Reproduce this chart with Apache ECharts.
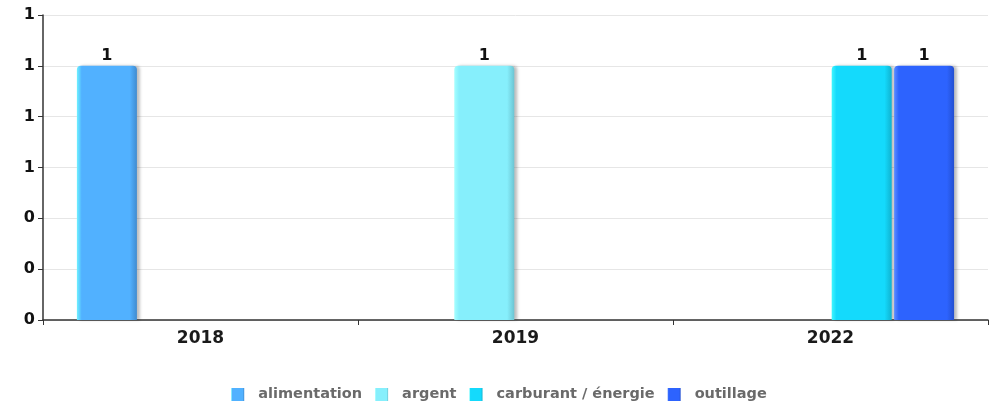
<!DOCTYPE html>
<html><head><meta charset="utf-8">
<script src="https://cdn.jsdelivr.net/npm/echarts@6/dist/echarts.min.js"></script>
<style>html,body{margin:0;padding:0;background:#fff}#c{width:998px;height:406px}</style>
</head><body><div id="c"></div>
<script>
const categories = ['2018', '2019', '2022'];
const seriesNames = ['alimentation', 'argent', 'carburant / énergie', 'outillage'];
const alimentation = [1, null, null];
const argent = [null, 1, null];
const carburant = [null, null, 1];
const outillage = [null, null, 1];
const yTicks = [0, 0.2, 0.4, 0.6, 0.8, 1.0, 1.2];

const colors = ['#51b1ff', '#86effc', '#14dafc', '#2d63fe'];
const lights = ['#6ef2ff', '#a6ffff', '#3ff7ff', '#5a8cff'];
const darks = ['#3f8bd0', '#6cc4d2', '#10b2cf', '#234fd0'];
const datas = [alimentation, argent, carburant, outillage];

const font = 'DejaVu Sans';
const chart = echarts.init(document.getElementById('c'));
chart.setOption({
  animation: false,
  color: colors,
  grid: {left: 43, right: 10, top: 15, bottom: 86, containLabel: false},
  legend: {
    top: 382, left: 'center', itemWidth: 13, itemHeight: 13, itemGap: 13,
    icon: 'rect',
    textStyle: {fontFamily: font, fontWeight: 'bold', fontSize: 14.5, color: '#6a6a6a', padding: [0, 0, 0, 9]},
    data: seriesNames
  },
  xAxis: {
    type: 'category', data: categories,
    axisLine: {lineStyle: {color: '#333', width: 1.5}},
    axisTick: {show: true, length: 5, lineStyle: {color: '#333'}},
    axisLabel: {fontFamily: font, fontWeight: 'bold', fontSize: 17, color: '#1a1a1a', margin: 10}
  },
  yAxis: {
    type: 'value', min: 0, max: 1.2, interval: 0.2,
    axisLine: {show: true, lineStyle: {color: '#333', width: 1.5}},
    axisTick: {show: true, length: 5, lineStyle: {color: '#333'}},
    splitLine: {lineStyle: {color: '#e6e6e6'}},
    axisLabel: {fontFamily: font, fontWeight: 'bold', fontSize: 16, color: '#111', margin: 8,
      formatter: v => String(Math.round(v))}
  },
  series: seriesNames.map((n, i) => ({
    name: n, type: 'bar', data: datas[i], barWidth: 60, barGap: '4%',
    itemStyle: {
      color: new echarts.graphic.LinearGradient(0, 0, 1, 0, [
        {offset: 0, color: lights[i]}, {offset: 0.08, color: colors[i]},
        {offset: 0.88, color: colors[i]}, {offset: 1, color: darks[i]}
      ]),
      borderRadius: [4, 4, 0, 0],
      shadowColor: 'rgba(0,0,0,0.25)', shadowBlur: 3, shadowOffsetX: 3
    },
    label: {show: true, position: 'top', distance: 2, fontFamily: font, fontWeight: 'bold', fontSize: 16, color: '#111',
      formatter: p => String(Math.round(p.value))}
  }))
});
</script></body></html>
